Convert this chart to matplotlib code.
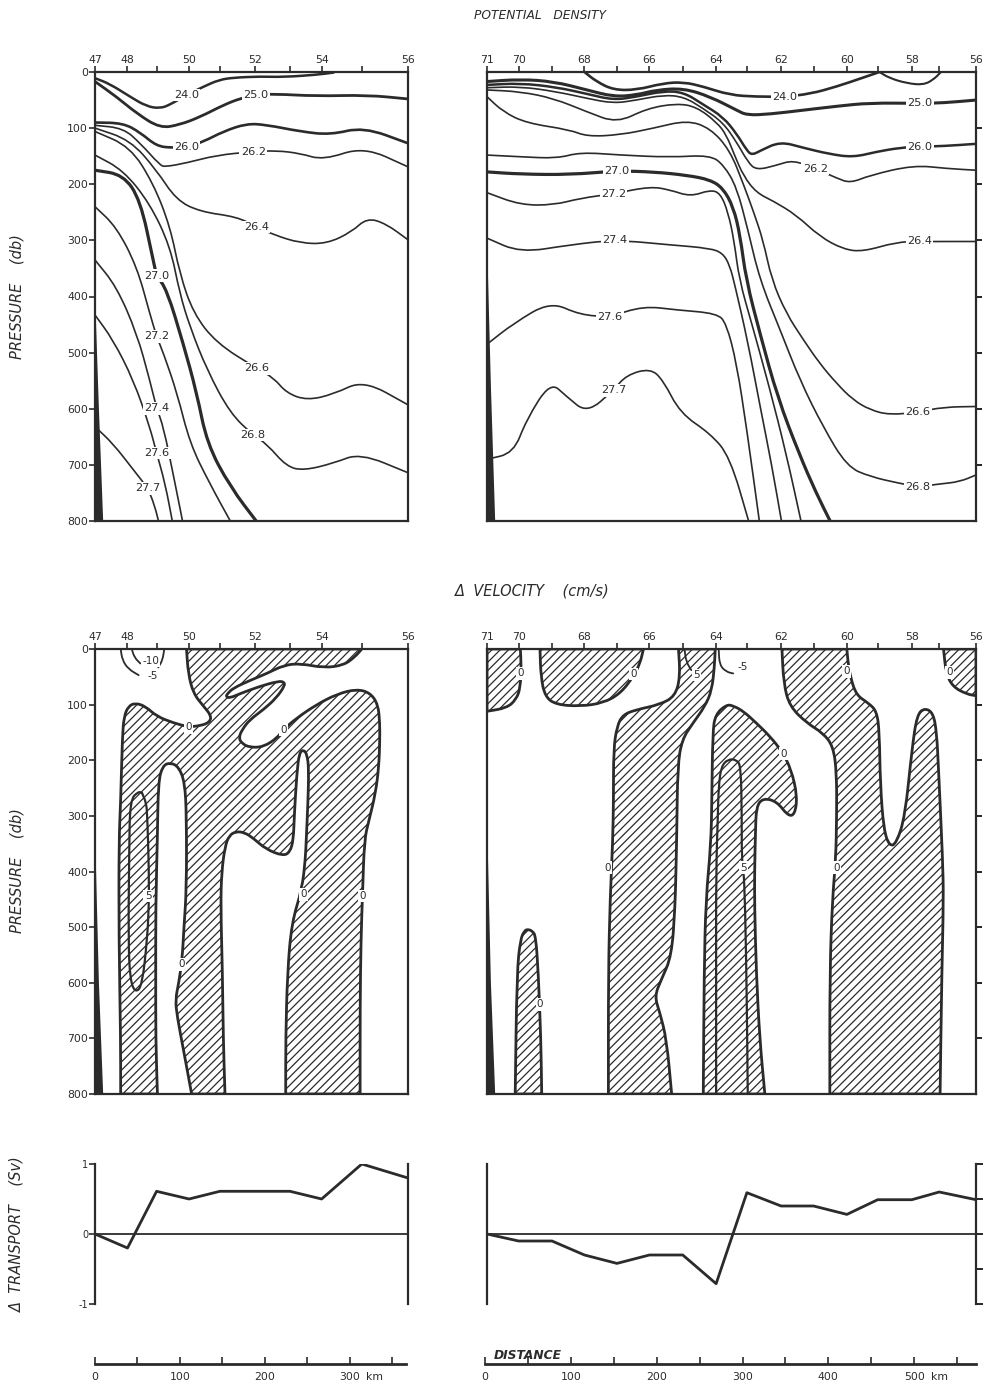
import matplotlib
matplotlib.use('Agg')
import matplotlib.pyplot as plt
from matplotlib.path import Path
from matplotlib.patches import PathPatch

INK = '#2b2b2b'
plt.rcParams['font.family'] = ['DejaVu Sans']
plt.rcParams['hatch.linewidth'] = 0.9

# station positions along the two sections (km from first station)
WEST_STATIONS = [47, 48, 49, 50, 51, 52, 53, 54, 55, 56]
WEST_KM = [0, 38, 72, 110, 146, 187, 228, 265, 312, 366]
WEST_LABELLED = [47, 48, 50, 52, 54, 56]
EAST_STATIONS = [71, 70, 69, 68, 67, 66, 65, 64, 63, 62, 61, 60, 59, 58, 57, 56]
EAST_KM = [0, 37, 76, 114, 152, 190, 229, 268, 304, 344, 382, 421, 457, 497, 529, 572]
EAST_LABELLED = [71, 70, 68, 66, 64, 62, 60, 58, 56]

# cumulative delta transport (Sv) at each station
WEST_TRANSPORT = [0, -0.2, 0.61, 0.5, 0.61, 0.61, 0.61, 0.5, 1.0, 0.8]
EAST_TRANSPORT = [0, -0.1, -0.1, -0.3, -0.42, -0.3, -0.3, -0.71, 0.59, 0.4, 0.4, 0.28, 0.49, 0.49, 0.6, 0.49]

# bottom topography (db, km from the section start)
WEST_TOPO_DB = [420, 600, 800]
WEST_TOPO_KM = [0, 4, 9]
EAST_TOPO_DB = [330, 560, 800]
EAST_TOPO_KM = [0, 4, 9]
WEST_VTOPO_DB = [360, 600, 800]
WEST_VTOPO_KM = [0, 4, 9]
EAST_VTOPO_DB = [340, 600, 800]
EAST_VTOPO_KM = [0, 4, 9]

# isopycnals, western section: (km, db)
W_240 = [(0, 11), (17, 21), (41, 44), (60, 61), (76, 65), (88, 58), (107, 41), (127, 26), (145, 14),
         (162, 10), (193, 8), (220, 9), (259, 5), (279, 1)]
W_250 = [(0, 17), (25, 44), (49, 74), (76, 100), (99, 94), (123, 80), (150, 59), (170, 47), (188, 41),
         (209, 39), (259, 43), (318, 41), (366, 48)]
W_260 = [(0, 90), (33, 91), (53, 108), (72, 132), (90, 135), (107, 134), (127, 124), (150, 106), (177, 92),
         (200, 94), (240, 106), (275, 112), (314, 98), (366, 127)]
W_262 = [(0, 95), (33, 100), (53, 127), (76, 166), (82, 169), (107, 162), (143, 148), (185, 142), (212, 140),
         (240, 145), (267, 157), (314, 133), (366, 169)]
W_264 = [(0, 100), (41, 121), (72, 175), (95, 228), (123, 249), (166, 258), (189, 276), (209, 290),
         (240, 305), (271, 306), (300, 285), (318, 260), (340, 270), (366, 299)]
W_266 = [(0, 106), (41, 133), (68, 198), (88, 276), (99, 359), (115, 430), (142, 483), (189, 528),
         (209, 545), (224, 572), (248, 585), (279, 574), (314, 549), (366, 593)]
W_268 = [(0, 148), (33, 175), (64, 234), (88, 311), (99, 394), (111, 454), (131, 531), (158, 608),
         (185, 647), (201, 663), (224, 703), (244, 710), (279, 697), (310, 679), (366, 714)]
W_270 = [(0, 175), (33, 183), (53, 228), (68, 335), (72, 363), (84, 388), (103, 483), (119, 572),
         (131, 662), (158, 739), (191, 805)]
W_272 = [(0, 240), (25, 276), (49, 347), (64, 430), (72, 471), (80, 501), (96, 572), (111, 662),
         (134, 733), (160, 805)]
W_274 = [(0, 335), (25, 382), (49, 466), (64, 549), (72, 599), (80, 632), (92, 721), (103, 805)]
W_276 = [(0, 433), (21, 477), (45, 549), (64, 632), (72, 679), (82, 733), (91, 805)]
W_277 = [(0, 632), (21, 662), (45, 709), (62, 742), (70, 774), (75, 805)]

# isopycnals, eastern section: (km, db)
E_240 = [(114, 0), (128, 17), (148, 32), (175, 32), (206, 20), (230, 18), (253, 26), (284, 41), (315, 44),
         (348, 44), (378, 39), (409, 26), (440, 10), (459, 0)]
E_240B = [(459, 0), (471, 11), (491, 20), (510, 23), (522, 14), (531, 0)]
E_250 = [(0, 17), (39, 13), (78, 17), (117, 32), (148, 44), (175, 41), (198, 32), (230, 29), (261, 44),
         (292, 68), (304, 77), (331, 75), (370, 68), (409, 61), (448, 55), (506, 56), (534, 55), (572, 50)]
E_260 = [(0, 23), (39, 20), (81, 27), (117, 39), (148, 50), (175, 44), (206, 34), (230, 36), (253, 58),
         (276, 80), (292, 110), (304, 140), (310, 148), (320, 140), (343, 124), (370, 135), (400, 146),
         (428, 152), (456, 142), (483, 135), (506, 133), (534, 132), (572, 128)]
E_262 = [(0, 28), (39, 26), (81, 35), (117, 47), (148, 56), (175, 50), (206, 41), (230, 44), (253, 65),
         (276, 90), (292, 125), (305, 160), (315, 175), (339, 166), (358, 157), (384, 172), (409, 189),
         (425, 198), (448, 184), (499, 166), (538, 172), (572, 175)]
E_264 = [(0, 32), (39, 35), (78, 47), (117, 71), (152, 91), (187, 65), (222, 56), (245, 62), (269, 90),
         (280, 112), (290, 150), (300, 185), (315, 215), (335, 230), (362, 255), (389, 293), (417, 316),
         (440, 320), (479, 303), (506, 302), (572, 302)]
E_266 = [(0, 44), (19, 71), (46, 91), (97, 103), (117, 115), (156, 112), (195, 100), (234, 86), (261, 100),
         (284, 139), (300, 200), (312, 250), (323, 300), (333, 370), (350, 430), (370, 477), (389, 519),
         (409, 555), (428, 584), (448, 602), (471, 611), (504, 606), (534, 597), (572, 596)]
E_268 = [(0, 148), (39, 151), (82, 154), (109, 143), (156, 148), (214, 152), (261, 148), (277, 166),
         (292, 205), (305, 280), (319, 370), (343, 460), (366, 549), (393, 632), (421, 703), (448, 721),
         (483, 733), (504, 739), (530, 734), (553, 730), (572, 718)]
E_270 = [(0, 178), (39, 182), (97, 183), (152, 176), (195, 178), (234, 184), (261, 192), (276, 207),
         (288, 240), (296, 290), (303, 370), (320, 470), (340, 580), (365, 680), (385, 750), (403, 805)]
E_272 = [(0, 215), (39, 237), (78, 237), (109, 225), (148, 217), (191, 204), (214, 210), (238, 222),
         (261, 210), (273, 216), (282, 250), (289, 300), (295, 370), (310, 450), (330, 560), (350, 680),
         (368, 805)]
E_274 = [(0, 296), (39, 322), (97, 308), (150, 299), (214, 308), (261, 314), (276, 323), (284, 345),
         (290, 380), (305, 480), (320, 600), (333, 700), (345, 805)]
E_276 = [(0, 485), (31, 448), (74, 409), (109, 433), (144, 436), (183, 417), (222, 424), (269, 430),
         (280, 448), (292, 519), (304, 638), (319, 805)]
E_277 = [(0, 690), (31, 679), (46, 620), (74, 552), (93, 578), (117, 608), (148, 567), (163, 540),
         (191, 528), (206, 549), (226, 608), (261, 644), (284, 685), (307, 805)]

# contour labels: (text, km, db)
W_SIGMA_LABELS = [('24.0', 107, 41), ('25.0', 188, 41), ('26.0', 107, 134), ('26.2', 185, 142),
                  ('26.4', 189, 276), ('26.6', 189, 528), ('26.8', 185, 647), ('27.0', 72, 363),
                  ('27.2', 72, 471), ('27.4', 72, 599), ('27.6', 72, 679), ('27.7', 62, 742)]
E_SIGMA_LABELS = [('24.0', 348, 44), ('25.0', 506, 56), ('26.0', 506, 133), ('26.2', 384, 172),
                  ('26.4', 506, 302), ('26.6', 504, 606), ('26.8', 504, 739), ('27.0', 152, 176),
                  ('27.2', 148, 217), ('27.4', 150, 299), ('27.6', 144, 436), ('27.7', 148, 567)]

# delta velocity: positive (hatched) regions bounded by the zero contour, (km, db)
W_VEL_POS = [(107, 0), (312, 0), (304, 14), (291, 29), (268, 34), (240, 26), (221, 29), (201, 44), (182, 56),
             (162, 70), (155, 80), (153, 86), (158, 88), (170, 80), (193, 67), (214, 58), (221, 59), (222, 66),
             (212, 88), (197, 109), (181, 127), (172, 145), (168, 160), (172, 170), (181, 177), (197, 176),
             (213, 160), (220, 145), (236, 124), (259, 100), (283, 81), (306, 72), (322, 79), (331, 100),
             (333, 133), (333, 163), (332, 210), (328, 260), (320, 310), (315, 343), (313, 432), (311, 522),
             (310, 641), (310, 800), (223, 800), (223, 701), (225, 582), (230, 492), (242, 432), (246, 378),
             (247, 343), (249, 277), (250, 215), (248, 190), (244, 181), (239, 186), (236, 223), (233, 300),
             (232, 343), (228, 365), (220, 372), (200, 360), (185, 340), (175, 330), (165, 328), (157, 335),
             (152, 355), (148, 402), (147, 462), (149, 581), (150, 701), (152, 800), (113, 800), (104, 725),
             (96, 660), (94, 630), (98, 600), (102, 557), (104, 500), (107, 432), (107, 300), (105, 240),
             (98, 212), (88, 204), (79, 210), (74, 240), (73, 337), (71, 462), (71, 581), (71, 701), (73, 800),
             (30, 800), (30, 701), (28, 522), (28, 343), (30, 277), (32, 157), (34, 121), (39, 103), (47, 97),
             (59, 103), (72, 121), (92, 133), (109, 140), (123, 138), (134, 132), (136, 120), (127, 103),
             (115, 80), (109, 44)]
W_VEL_5 = [(55, 259), (51, 256), (41, 271), (40, 361), (39, 522), (41, 594), (47, 618), (55, 606), (61, 522),
           (63, 462), (63, 402), (62, 343), (61, 300), (60, 277), (55, 259)]
W_VEL_M5 = [(30, 0), (32, 20), (39, 36), (51, 47)]
W_VEL_M10 = [(43, 0), (46, 15), (53, 26)]
W_VEL_M10B = [(74, 33), (79, 20), (81, 0)]
W_VEL_LABELS = [('-10', 65, 22), ('-5', 68, 48), ('0', 109, 141), ('0', 220, 146), ('0', 101, 567),
                ('0', 244, 441), ('0', 313, 444), ('5', 62, 444)]

E_VEL_R1 = [(0, 0), (39, 0), (40, 30), (39, 70), (34, 91), (23, 106), (0, 112)]
E_VEL_R2 = [(62, 0), (183, 0), (179, 26), (171, 50), (156, 80), (136, 97), (109, 103), (81, 100), (68, 86),
            (63, 50)]
E_VEL_R3 = [(224, 0), (267, 0), (266, 32), (263, 74), (255, 103), (241, 133), (228, 163), (223, 211),
            (222, 331), (221, 400), (220, 462), (216, 552), (204, 594), (196, 624), (202, 653), (210, 701),
            (216, 800), (142, 800), (142, 582), (144, 450), (147, 350), (148, 271), (148, 181), (152, 139),
            (159, 118), (175, 109), (202, 100), (220, 85), (226, 50)]
E_VEL_R4 = [(280, 100), (288, 102), (300, 112), (315, 133), (331, 157), (345, 184), (356, 217), (363, 265),
            (360, 298), (352, 300), (339, 274), (323, 268), (315, 283), (314, 331), (313, 400), (313, 462),
            (315, 582), (319, 701), (325, 800), (253, 800), (254, 582), (256, 450), (262, 350), (263, 271),
            (264, 151), (267, 118)]
E_VEL_R4_5 = [(268, 800), (268, 582), (268, 400), (270, 300), (271, 247), (274, 211), (282, 198), (292, 199),
              (297, 211), (298, 301), (298, 378), (300, 393), (302, 462), (304, 641), (305, 800)]
E_VEL_R5 = [(345, 0), (421, 0), (422, 20), (425, 50), (432, 83), (446, 97), (456, 112), (459, 151), (460, 241),
            (464, 325), (471, 355), (479, 349), (489, 301), (497, 181), (503, 118), (512, 106), (522, 115),
            (526, 151), (528, 211), (533, 378), (534, 450), (532, 582), (530, 800), (401, 800), (401, 582),
            (404, 450), (408, 378), (409, 300), (409, 223), (405, 175), (393, 151), (374, 133), (354, 103),
            (347, 62)]
E_VEL_R6 = [(534, 0), (572, 0), (572, 84), (561, 81), (545, 68), (537, 44)]
E_VEL_R7 = [(33, 800), (35, 582), (39, 522), (44, 506), (48, 504), (53, 507), (57, 516), (60, 582),
            (63, 701), (64, 800)]
E_VEL_5 = [(231, 0), (233, 23), (239, 38)]
E_VEL_M5 = [(271, 0), (272, 29), (280, 41), (288, 44)]
E_VEL_LABELS = [('0', 39, 44), ('0', 171, 45), ('5', 245, 47), ('-5', 299, 32), ('0', 347, 188),
                ('0', 421, 40), ('0', 541, 42), ('0', 141, 393), ('5', 300, 393), ('0', 409, 393),
                ('0', 62, 639)]

W_SIGMA = [(W_240, 1.8), (W_250, 2.0), (W_260, 1.9), (W_262, 1.2), (W_264, 1.2), (W_266, 1.2),
           (W_268, 1.2), (W_270, 2.3), (W_272, 1.2), (W_274, 1.2), (W_276, 1.2), (W_277, 1.2)]
E_SIGMA = [(E_240, 1.9), (E_240B, 1.5), (E_250, 2.2), (E_260, 1.8), (E_262, 1.2), (E_264, 1.2),
           (E_266, 1.2), (E_268, 1.2), (E_270, 2.3), (E_272, 1.2), (E_274, 1.2), (E_276, 1.2), (E_277, 1.2)]


def px_axes(fig, left, top, right, bottom):
    W, H = 987.0, 1399.0
    return fig.add_axes([left / W, 1 - bottom / H, (right - left) / W, (bottom - top) / H])


def _mid(a, b):
    return ((a[0] + b[0]) / 2.0, (a[1] + b[1]) / 2.0)


def _run(pts, verts, codes, first):
    # quadratic bezier through midpoints; read points act as control points, ends are kept
    if first:
        verts.append(pts[0])
        codes.append(Path.MOVETO)
    n = len(pts)
    if n > 2:
        verts.append(_mid(pts[0], pts[1]))
        codes.append(Path.LINETO)
        for i in range(1, n - 1):
            verts += [pts[i], _mid(pts[i], pts[i + 1])]
            codes += [Path.CURVE3, Path.CURVE3]
    verts.append(pts[-1])
    codes.append(Path.LINETO)


def _is_corner(p):
    return p[1] <= 0 or p[1] >= 800 or p[0] <= 0 or p[0] >= 566


def smooth_path(pts, closed=False):
    verts, codes = [], []
    if not closed:
        _run(pts, verts, codes, True)
        return Path(verts, codes)
    idx = [i for i, p in enumerate(pts) if _is_corner(p)]
    ring = pts[idx[0]:] + pts[:idx[0]] + [pts[idx[0]]]
    cut = [i for i, p in enumerate(ring) if _is_corner(p)]
    for a, b in zip(cut[:-1], cut[1:]):
        _run(ring[a:b + 1], verts, codes, a == 0)
    verts.append(ring[0])
    codes.append(Path.CLOSEPOLY)
    return Path(verts, codes)


def curve(ax, pts, lw=1.2):
    ax.add_patch(PathPatch(smooth_path(pts), fill=False, edgecolor=INK, lw=lw,
                           joinstyle='round', capstyle='round', zorder=3))


def tag(ax, text, x, y, size=8.2):
    ax.text(x, y, text, ha='center', va='center', fontsize=size, color=INK, zorder=6,
            bbox=dict(boxstyle='square,pad=0.12', fc='white', ec='none'))


def hatched(ax, pts):
    path = smooth_path(pts, closed=True)
    ax.add_patch(PathPatch(path, facecolor='none', edgecolor=INK, hatch='////', lw=0, zorder=2))
    ax.add_patch(PathPatch(path, fill=False, edgecolor=INK, lw=2.0, joinstyle='round', zorder=3))


def section_frame(ax, km, stations, labelled, width, west):
    ax.set_xlim(0, width)
    ax.set_ylim(800, 0)
    ax.xaxis.set_ticks_position('top')
    ax.set_xticks(km)
    ax.set_xticklabels([str(s) if s in labelled else '' for s in stations])
    ax.tick_params(axis='x', direction='out', length=4, width=1.2, pad=1, labelsize=7.8, colors=INK)
    if west:
        ax.set_yticks(range(0, 801, 100))
        ax.tick_params(axis='y', direction='out', length=4, width=1.2, pad=1, labelsize=7.8, colors=INK)
    else:
        ax.yaxis.set_ticks_position('right')
        ax.set_yticks(range(100, 701, 100))
        ax.set_yticklabels([])
        ax.tick_params(axis='y', direction='out', length=4, width=1.2)
    for s in ax.spines.values():
        s.set_linewidth(1.6)
        s.set_color(INK)


fig = plt.figure(figsize=(9.87, 13.99), dpi=100)
fig.patch.set_facecolor('white')

# ---- potential density
ax_wd = px_axes(fig, 95, 72, 408, 521)
section_frame(ax_wd, WEST_KM, WEST_STATIONS, WEST_LABELLED, 366, True)
for pts, lw in W_SIGMA:
    curve(ax_wd, pts, lw)
for t, x, y in W_SIGMA_LABELS:
    tag(ax_wd, t, x, y)
ax_wd.fill_betweenx(WEST_TOPO_DB, 0, WEST_TOPO_KM, color=INK, lw=0, zorder=4)

ax_ed = px_axes(fig, 487, 72, 976, 521)
section_frame(ax_ed, EAST_KM, EAST_STATIONS, EAST_LABELLED, 572, False)
for pts, lw in E_SIGMA:
    curve(ax_ed, pts, lw)
for t, x, y in E_SIGMA_LABELS:
    tag(ax_ed, t, x, y)
ax_ed.fill_betweenx(EAST_TOPO_DB, 0, EAST_TOPO_KM, color=INK, lw=0, zorder=4)

# ---- delta velocity
ax_wv = px_axes(fig, 95, 649, 408, 1094)
section_frame(ax_wv, WEST_KM, WEST_STATIONS, WEST_LABELLED, 366, True)
hatched(ax_wv, W_VEL_POS)
curve(ax_wv, W_VEL_5, 1.6)
curve(ax_wv, W_VEL_M5, 1.3)
curve(ax_wv, W_VEL_M10, 1.3)
curve(ax_wv, W_VEL_M10B, 1.3)
for t, x, y in W_VEL_LABELS:
    tag(ax_wv, t, x, y, 7.5)
ax_wv.fill_betweenx(WEST_VTOPO_DB, 0, WEST_VTOPO_KM, color=INK, lw=0, zorder=4)

ax_ev = px_axes(fig, 487, 649, 976, 1094)
section_frame(ax_ev, EAST_KM, EAST_STATIONS, EAST_LABELLED, 572, False)
for poly in (E_VEL_R1, E_VEL_R2, E_VEL_R3, E_VEL_R4, E_VEL_R5, E_VEL_R6, E_VEL_R7):
    hatched(ax_ev, poly)
curve(ax_ev, E_VEL_R4_5, 1.6)
curve(ax_ev, E_VEL_5, 1.3)
curve(ax_ev, E_VEL_M5, 1.3)
for t, x, y in E_VEL_LABELS:
    tag(ax_ev, t, x, y, 7.5)
ax_ev.fill_betweenx(EAST_VTOPO_DB, 0, EAST_VTOPO_KM, color=INK, lw=0, zorder=4)

# ---- delta transport
ax_wt = px_axes(fig, 95, 1164, 408, 1304)
ax_wt.plot(WEST_KM, WEST_TRANSPORT, color=INK, lw=2.0)
ax_wt.axhline(0, color=INK, lw=1.3)
ax_wt.set_xlim(0, 366)
ax_wt.set_ylim(-1, 1)
ax_wt.set_xticks([])
ax_wt.set_yticks([-1, 0, 1])
ax_wt.set_yticklabels(['-1', '0', '1'])
ax_wt.tick_params(axis='y', direction='out', length=4, width=1.2, pad=1, labelsize=7, colors=INK)
for k in ('top', 'bottom'):
    ax_wt.spines[k].set_visible(False)
for k in ('left', 'right'):
    ax_wt.spines[k].set_linewidth(1.6)
    ax_wt.spines[k].set_color(INK)

ax_et = px_axes(fig, 487, 1164, 976, 1304)
ax_et.plot(EAST_KM, EAST_TRANSPORT, color=INK, lw=2.0)
ax_et.axhline(0, color=INK, lw=1.3)
ax_et.set_xlim(0, 572)
ax_et.set_ylim(-1, 1)
ax_et.set_xticks([])
ax_et.yaxis.set_ticks_position('right')
ax_et.set_yticks([-1, -0.5, 0, 0.5, 1])
ax_et.set_yticklabels([])
ax_et.tick_params(axis='y', direction='out', length=5, width=1.2)
for k in ('top', 'bottom'):
    ax_et.spines[k].set_visible(False)
for k in ('left', 'right'):
    ax_et.spines[k].set_linewidth(1.6)
    ax_et.spines[k].set_color(INK)

# ---- distance scales
for left, right, width, labels in ((95, 406, 366, [0, 100, 200, 300]),
                                   (485, 976, 572, [0, 100, 200, 300, 400, 500])):
    ax_s = px_axes(fig, left, 1354, right, 1364)
    ax_s.set_xlim(0, width)
    ax_s.set_ylim(0, 1)
    ax_s.set_yticks([])
    ax_s.set_xticks(range(0, int(width) + 1, 50))
    ax_s.set_xticklabels([str(v) if v in labels else '' for v in range(0, int(width) + 1, 50)])
    ax_s.tick_params(axis='x', direction='in', length=5, width=1.2, pad=6, labelsize=7.8, colors=INK)
    for k in ('top', 'left', 'right'):
        ax_s.spines[k].set_visible(False)
    ax_s.spines['bottom'].set_linewidth(2.0)
    ax_s.spines['bottom'].set_color(INK)
    ax_s.text(labels[-1] + 19, -0.82, 'km', ha='left', va='top', fontsize=7.8, color=INK)

# ---- titles
fig.text(0.547, 0.989, 'POTENTIAL   DENSITY', ha='center', va='center', fontsize=8.8,
         style='italic', color=INK)
fig.text(0.539, 0.5776, '\u0394  VELOCITY    (cm/s)', ha='center', va='center', fontsize=10.5,
         style='italic', color=INK)
fig.text(0.535, 0.0314, 'DISTANCE', ha='center', va='center', fontsize=8.8, style='italic',
         weight='bold', color=INK)
fig.text(0.017, 0.788, 'PRESSURE    (db)', rotation=90, ha='center', va='center', fontsize=10.5,
         style='italic', color=INK)
fig.text(0.017, 0.378, 'PRESSURE    (db)', rotation=90, ha='center', va='center', fontsize=10.5,
         style='italic', color=INK)
fig.text(0.017, 0.118, '\u0394  TRANSPORT    (Sv)', rotation=90, ha='center', va='center', fontsize=10.5,
         style='italic', color=INK)

fig.savefig('out.png', dpi=100, facecolor='white')
